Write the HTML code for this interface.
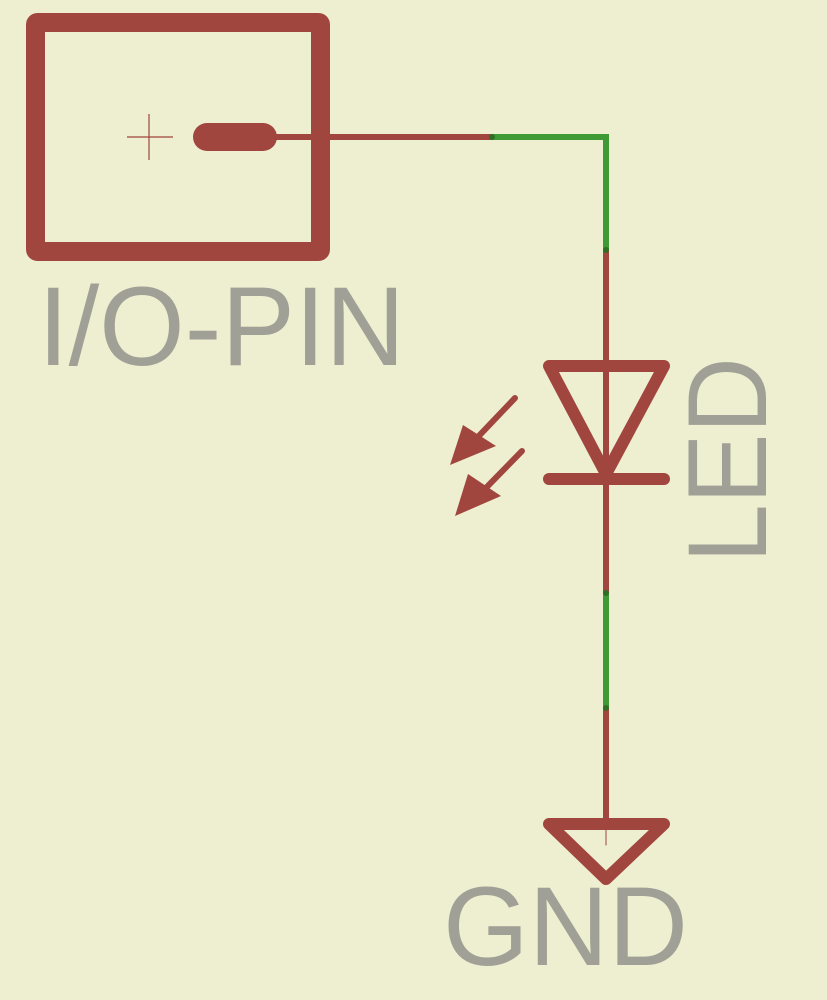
<!DOCTYPE html>
<html><head><style>html,body{margin:0;padding:0;background:#eeeed0;}svg{display:block}</style></head>
<body>
<svg width="827" height="1000" viewBox="0 0 827 1000" xmlns="http://www.w3.org/2000/svg">
<rect width="827" height="1000" fill="#eeeed0"/>
<g stroke="#a0463e" fill="none" stroke-linecap="round" stroke-linejoin="round">
<rect x="35.5" y="22.5" width="285" height="229" stroke-width="19" rx="2"/>
<line x1="127" y1="137" x2="173" y2="137" stroke-width="1.2" stroke-linecap="butt"/>
<line x1="149" y1="114" x2="149" y2="160" stroke-width="1.2" stroke-linecap="butt"/>
<line x1="207" y1="137" x2="263" y2="137" stroke-width="28"/>
<line x1="263" y1="137" x2="492" y2="137" stroke-width="6" stroke-linecap="butt"/>
<line x1="606" y1="250" x2="606" y2="593" stroke-width="6" stroke-linecap="butt"/>
<line x1="606" y1="708" x2="606" y2="825" stroke-width="6" stroke-linecap="butt"/>
<polygon points="549,366 664,366 606,474" stroke-width="12"/>
<line x1="549" y1="479" x2="664" y2="479" stroke-width="12"/>
<polygon points="549,824 664,824 606,879" stroke-width="12"/>
<line x1="606" y1="824" x2="606" y2="845" stroke-width="1"/>
<line x1="515" y1="398" x2="475" y2="440" stroke-width="6"/>
<line x1="522" y1="451" x2="480" y2="494" stroke-width="6"/>
</g>
<g fill="#a0463e">
<polygon points="450,465 463,425 496,446"/>
<polygon points="455,516 468,474 501,496"/>
</g>
<polyline points="492,137 606,137 606,250" stroke="#3f9a35" stroke-width="6" fill="none"/>
<line x1="606" y1="593" x2="606" y2="708" stroke="#3f9a35" stroke-width="6"/>
<g fill="#2f6e24">
<circle cx="492" cy="137" r="3"/><circle cx="606" cy="250" r="3"/>
<circle cx="606" cy="593" r="3"/><circle cx="606" cy="708" r="3"/>
</g>
<g fill="#a0a096" font-family="Liberation Sans, sans-serif" font-size="112">
<text x="38" y="365" textLength="367" lengthAdjust="spacingAndGlyphs">I/O-PIN</text>
<text x="443" y="965" textLength="245" lengthAdjust="spacingAndGlyphs">GND</text>
<text transform="translate(766,563) rotate(-90)" x="0" y="0" textLength="206" lengthAdjust="spacingAndGlyphs">LED</text>
</g>
</svg>
</body></html>
